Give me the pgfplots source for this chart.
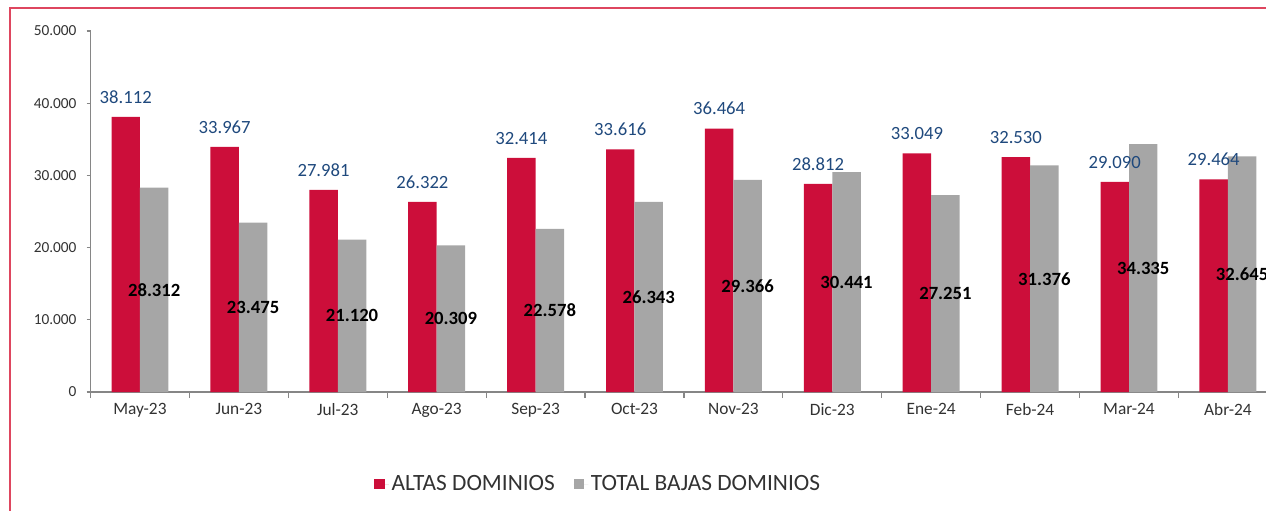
\documentclass[border=0pt]{standalone}
\usepackage{fontspec}
\setmainfont{Carlito}
\usepackage{pgfplots}
\usepackage{pgfplotstable}
\pgfplotsset{compat=1.18}
\definecolor{altas}{RGB}{204,14,58}
\definecolor{bajas}{RGB}{166,166,166}
\definecolor{lblblue}{RGB}{31,73,125}
\definecolor{framecol}{RGB}{222,70,95}
\definecolor{axgray}{RGB}{134,134,134}
\definecolor{txt}{RGB}{50,50,50}
\pgfplotstableread{
x a b
0 38112 28312
1 33967 23475
2 27981 21120
3 26322 20309
4 32414 22578
5 33616 26343
6 36464 29366
7 28812 30441
8 33049 27251
9 32530 31376
10 29090 34335
11 29464 32645
}\data
\begin{document}
\begin{tikzpicture}
\path[use as bounding box, clip] (0,0) rectangle (949.5pt,382.5pt);
\draw[framecol, line width=1.1pt] (7.5pt,-20pt) -- (7.5pt,376.5pt) -- (1000pt,376.5pt);
\begin{axis}[
  at={(67.9pt,88.5pt)}, anchor=south west,
  scale only axis, width=890.1pt, height=270.75pt,
  xmin=-0.5, xmax=11.5, ymin=0, ymax=50000,
  axis lines=left, axis line style={-, axgray, line width=0.9pt},
  ytick={0,10000,...,50000},
  xtick={0,...,11},
  xticklabels={May-23,Jun-23,Jul-23,Ago-23,Sep-23,Oct-23,Nov-23,Dic-23,Ene-24,Feb-24,Mar-24,Abr-24},
  minor xtick={-0.5,0.5,...,11.5},
  tick align=outside, major tick length=3pt, minor tick length=4.5pt,
  tick style={axgray, line width=0.9pt},
  x tick style={draw=none},
  minor x tick style={draw=axgray, line width=0.9pt},
  scaled y ticks=false,
  yticklabel style={font=\fontsize{11.5}{13}\selectfont, text=txt, xshift=-4pt},
  xticklabel style={font=\fontsize{13}{15}\selectfont, text=txt, yshift=-2pt},
  /pgf/number format/.cd, 1000 sep={.}, fixed, precision=0, assume math mode=true,
  /pgfplots/.cd,
  ybar, bar width=0.288,
  legend style={at={(0.428,-0.255)}, anchor=center, draw=none, fill=none,
    legend columns=2, font=\fontsize{17.5}{20}\selectfont, text=txt,
    /tikz/every even column/.append style={column sep=12pt}},
  legend image code/.code={\fill[#1] (0pt,-3.9pt) rectangle (7.8pt,3.9pt); \path (0pt,0pt) -- (11pt,0pt);},
]
\addplot[fill=altas, draw=none, bar shift=-0.144,
  nodes near coords={\pgfmathprintnumber[fixed,precision=0,1000 sep={.}]{\pgfplotspointmeta}},
  every node near coord/.append style={font=\fontsize{14}{16}\selectfont, text=lblblue, anchor=south, inner sep=0pt, yshift=10pt}]
  table[x=x, y=a] {\data};
\addlegendentry{ALTAS DOMINIOS}
\addplot[fill=bajas, draw=none, bar shift=0.144] table[x=x, y=b] {\data};
\addlegendentry{TOTAL BAJAS DOMINIOS}
\addplot[draw=none, fill=none, bar shift=0.144, forget plot,
  point meta=\thisrow{b},
  nodes near coords={\pgfmathprintnumber[fixed,precision=0,1000 sep={.}]{\pgfplotspointmeta}},
  every node near coord/.append style={font=\bfseries\fontsize{14}{16}\selectfont, text=black, anchor=center, inner sep=0pt}]
  table[x=x, y expr=\thisrow{b}/2] {\data};
\end{axis}
\end{tikzpicture}
\end{document}
